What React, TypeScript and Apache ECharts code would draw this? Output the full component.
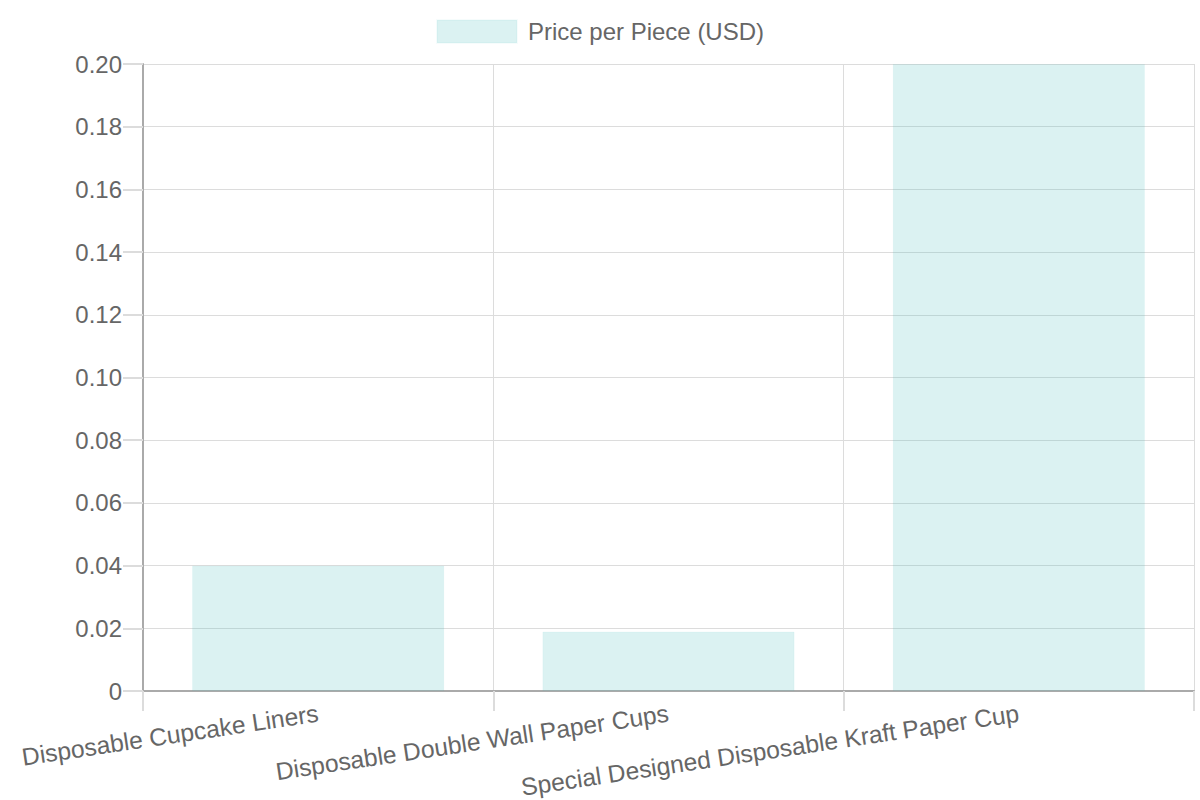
import { useEffect, useRef } from 'react';
import * as echarts from 'echarts';

const categories = [
  'Disposable Cupcake Liners',
  'Disposable Double Wall Paper Cups',
  'Special Designed Disposable Kraft Paper Cup',
];
const prices = [0.04, 0.019, 0.2];
const seriesName = 'Price per Piece (USD)';

const FONT = '"Liberation Sans", Arial, Helvetica, sans-serif';
const TEXT = '#666666';
const GRID = '#dcdcdc';

const App: React.FC = () => {
  const chartRef = useRef<HTMLDivElement>(null);

  useEffect(() => {
    if (!chartRef.current) return;
    document.body.style.margin = '0';

    const chart = echarts.init(chartRef.current, undefined, { renderer: 'svg' });

    const option: echarts.EChartsOption = {
      animation: false,
      textStyle: { fontFamily: FONT },
      legend: {
        top: 14,
        left: 'center',
        itemWidth: 80,
        itemHeight: 23,
        icon: 'rect',
        textStyle: {
          color: TEXT,
          fontSize: 24,
          fontFamily: FONT,
          padding: [0, 0, 0, 6],
        },
        data: [seriesName],
      },
      grid: {
        left: 143,
        right: 6,
        top: 64,
        bottom: 109,
        containLabel: false,
        outerBoundsMode: 'none',
      } as any,
      xAxis: {
        type: 'category',
        data: categories,
        axisLine: { show: true, lineStyle: { color: '#aaaaaa', width: 2 } },
        axisTick: { show: true, length: 20, lineStyle: { color: GRID, width: 2 } },
        splitLine: { show: true, lineStyle: { color: GRID, width: 1 } },
        axisLabel: {
          rotate: 8.5,
          margin: 22,
          color: TEXT,
          fontSize: 24.6,
          fontFamily: FONT,
          interval: 0,
        },
      },
      yAxis: {
        type: 'value',
        min: 0,
        max: 0.2,
        interval: 0.02,
        axisLine: { show: true, lineStyle: { color: '#aaaaaa', width: 2 } },
        axisTick: { show: true, length: 20, lineStyle: { color: GRID, width: 2 } },
        splitLine: { show: true, lineStyle: { color: GRID, width: 1 } },
        axisLabel: {
          margin: 21,
          color: TEXT,
          fontSize: 24,
          fontFamily: FONT,
          formatter: (v: number) => (v === 0 ? '0' : v.toFixed(2)),
        },
      },
      series: [
        {
          name: seriesName,
          type: 'bar',
          data: prices,
          barCategoryGap: '28%',
          itemStyle: {
            color: 'rgba(75, 192, 192, 0.2)',
            borderColor: 'rgba(75, 192, 192, 0.05)',
            borderWidth: 1,
          },
        },
      ],
    };

    chart.setOption(option);

    return () => {
      chart.dispose();
    };
  }, []);

  return <div ref={chartRef} style={{ width: '1200px', height: '800px' }} />;
};

export default App;
